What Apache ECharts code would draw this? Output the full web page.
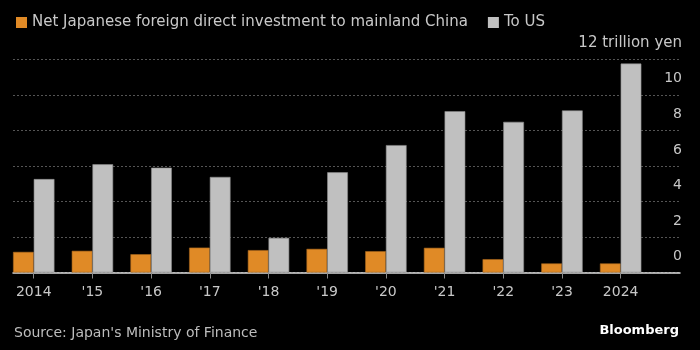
<!DOCTYPE html>
<html>
<head>
<meta charset="utf-8">
<title>Japan FDI to China vs US</title>
<script src="https://cdn.jsdelivr.net/npm/echarts@6/dist/echarts.min.js"></script>
<style>
  html, body { margin: 0; padding: 0; background: #000; }
  #chart { width: 700px; height: 350px; }
</style>
</head>
<body>
<div id="chart"></div>
<script>
// 数据（万亿日元）
var years = ['2014', "'15", "'16", "'17", "'18", "'19", "'20", "'21", "'22", "'23", '2024'];
var chinaFdi = [1.16, 1.22, 1.03, 1.40, 1.26, 1.33, 1.20, 1.39, 0.75, 0.51, 0.51];
var usFdi = [5.26, 6.09, 5.90, 5.38, 1.95, 5.64, 7.17, 9.08, 8.48, 9.12, 11.76];
var seriesNames = ['Net Japanese foreign direct investment to mainland China', 'To US'];
var yTicks = [0, 2, 4, 6, 8, 10, 12];

var chart = echarts.init(document.getElementById('chart'));

var font = 'DejaVu Sans';
var textColor = '#c8c8c8';

var option = {
  backgroundColor: '#000',
  animation: false,
  textStyle: { fontFamily: font },
  legend: {
    left: 11,
    top: 10,
    icon: 'rect',
    itemWidth: 11,
    itemHeight: 11,
    itemGap: 20,
    itemStyle: { borderWidth: 0 },
    textStyle: { color: textColor, fontSize: 15, fontFamily: font },
    data: seriesNames
  },
  // grid 0: 网格线和基线, grid 1: 柱子
  grid: [
    { left: 13, right: 20, top: 59.3, bottom: 77.5 },
    { left: 4.4, width: 645.6, top: 59.3, bottom: 77.5 }
  ],
  xAxis: [
    {
      gridIndex: 0, type: 'value', min: 0, max: 1,
      axisLine: { show: true, lineStyle: { color: '#dcdcdc', width: 1.5 } },
      axisTick: { show: false }, axisLabel: { show: false }, splitLine: { show: false }
    },
    {
      gridIndex: 1, type: 'category', data: years,
      axisLine: { show: false },
      axisTick: { show: true, alignWithLabel: true, length: 6, lineStyle: { color: '#8a8a8a' } },
      axisLabel: { color: textColor, fontSize: 14, margin: 13, fontFamily: font }
    }
  ],
  yAxis: [
    {
      gridIndex: 0, type: 'value', position: 'right',
      min: yTicks[0], max: yTicks[yTicks.length - 1], interval: 2,
      axisLine: { show: false }, axisTick: { show: false },
      splitLine: { show: true, lineStyle: { color: '#555555', type: [2, 2] } },
      axisLabel: {
        inside: true, margin: -2, color: textColor, fontSize: 14, fontFamily: font,
        verticalAlign: 'bottom', padding: [0, 0, 9, 0],
        formatter: function (v) {
          return v === yTicks[yTicks.length - 1] ? '{u|' + v + ' trillion yen}' : String(v);
        },
        rich: { u: { fontSize: 15, color: textColor, fontFamily: font } }
      }
    },
    {
      gridIndex: 1, type: 'value',
      min: yTicks[0], max: yTicks[yTicks.length - 1], interval: 2,
      show: false, splitLine: { show: false }
    }
  ],
  series: [
    {
      name: seriesNames[0], type: 'bar', xAxisIndex: 1, yAxisIndex: 1,
      data: chinaFdi, barWidth: 20.7, barGap: '0%',
      itemStyle: { color: '#e08a26', borderColor: '#a8661c', borderWidth: 0.6 }
    },
    {
      name: seriesNames[1], type: 'bar', xAxisIndex: 1, yAxisIndex: 1,
      data: usFdi, barWidth: 20.7, barGap: '0%',
      itemStyle: { color: '#c0c0c0', borderColor: '#8c8c8c', borderWidth: 0.6 }
    }
  ],
  graphic: [
    {
      type: 'text', left: 14, top: 326,
      style: { text: "Source: Japan's Ministry of Finance", fill: '#bdbdbd', fontSize: 14, fontFamily: font }
    },
    {
      type: 'text', right: 21, top: 324,
      style: { text: 'Bloomberg', fill: '#ffffff', fontSize: 13, fontWeight: 'bold', fontFamily: font }
    }
  ]
};

chart.setOption(option);
</script>
</body>
</html>
